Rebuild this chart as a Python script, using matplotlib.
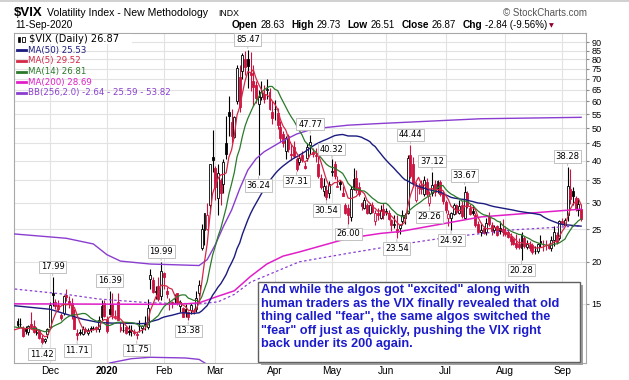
import matplotlib
matplotlib.use("Agg")
import matplotlib.pyplot as plt
import matplotlib.patches as mpatches
from matplotlib.lines import Line2D
import numpy as np
import pandas as pd

W, H = 629, 380

# trading day index: 0 = 2 Dec 2019
warmup_close = [13.71, 12.65, 13.11, 13.20, 12.33, 13.22, 12.30, 12.83, 13.10, 12.62, 12.73, 12.07, 12.69, 12.68]
first_day = -12  # 13 Nov 2019

opens = [13.30, 13.10, 12.70, 12.70, 12.40, 13.10, 12.90, 12.30, 12.50, 11.90, 11.60, 12.20,
         12.80, 16.20, 15.20, 14.90, 13.90, 14.10, 15.90, 15.30, 15.10, 13.70, 12.30, 12.40, 12.20, 12.60, 12.30, 12.70, 12.70, 12.80, 12.60, 13.70, 15.10,
         13.50, 14.50, 15.00, 13.70, 15.20, 12.80, 12.50, 12.80, 12.40, 12.50, 12.40, 12.20, 12.90, 12.70, 13.10, 12.80, 17.80, 17.70, 16.30, 16.90, 15.80,
         18.50, 16.40, 15.20, 15.20, 15.50, 16.10, 14.80, 14.60, 14.50, 14.20, 14.40, 14.30, 14.50, 16.10, 22.00, 24.80, 25.00, 29.50, 41.00,
         38.00, 31.00, 35.00, 34.00, 45.00, 56.00, 52.00, 47.00, 60.00, 71.00, 74.00, 80.00, 80.00, 73.00, 69.00, 67.00, 58.90, 62.00, 63.00, 65.00, 64.00, 56.00,
         57.00, 55.50, 50.50, 48.00, 42.80, 47.50, 42.00, 44.00, 40.50, 39.50, 41.50, 38.50, 40.80, 44.50, 42.50, 41.50, 39.00, 35.50, 32.60, 32.80, 32.00,
         37.00, 39.00, 33.50, 34.50, 32.00, 29.50, 29.00, 27.20, 33.00, 35.50, 33.50, 30.00, 29.00, 29.60, 28.00, 29.60, 26.50, 28.00, 27.00, 28.80,
         28.20, 28.00, 26.70, 25.80, 25.00, 25.30, 26.50, 27.00, 28.00, 41.50, 39.00, 30.50, 33.20, 33.80, 31.80, 34.50, 30.00, 32.00, 34.00, 33.00, 34.50, 32.00,
         30.20, 27.00, 27.00, 27.80, 29.50, 28.00, 29.50, 27.00, 32.00, 29.00, 28.30, 27.50, 26.00, 24.50, 25.30, 24.50, 27.30, 25.70, 24.90, 25.50, 25.20, 25.00,
         24.60, 24.50, 23.80, 23.40, 22.70, 22.60, 22.00, 23.50, 22.20, 22.50, 22.50, 21.50, 21.50, 23.00, 22.60, 22.50, 22.50, 22.00, 23.20, 24.00, 23.50,
         26.50, 25.80, 27.50, 33.00, 32.50, 31.00, 28.50, 28.63]
highs = [13.60, 13.60, 12.90, 12.90, 13.00, 14.20, 13.40, 12.80, 12.60, 12.10, 11.90, 12.70,
         15.20, 17.99, 15.50, 15.40, 14.10, 15.90, 16.60, 15.80, 15.60, 14.50, 12.60, 12.60, 12.90, 12.80, 12.70, 12.90, 12.90, 12.90, 13.80, 15.40, 15.40,
         13.80, 16.39, 16.20, 14.40, 16.20, 13.20, 13.20, 12.90, 13.00, 13.00, 12.60, 12.40, 13.40, 13.00, 13.80, 15.50, 19.00, 18.00, 16.90, 18.00, 19.99,
         18.60, 16.80, 15.60, 15.30, 16.00, 16.20, 15.40, 14.70, 15.00, 14.30, 15.10, 14.60, 16.40, 17.70, 25.90, 28.00, 30.00, 39.20, 49.50,
         38.50, 39.00, 35.50, 40.50, 54.40, 62.10, 57.00, 54.40, 76.80, 77.00, 83.56, 84.83, 85.47, 84.26, 77.00, 69.00, 65.00, 69.00, 67.00, 70.00, 66.00, 60.00,
         60.60, 57.30, 52.40, 49.00, 47.50, 48.00, 44.80, 45.80, 40.90, 42.00, 42.80, 39.50, 45.00, 47.77, 43.50, 43.50, 41.20, 36.50, 35.50, 33.80, 34.80,
         40.32, 40.00, 36.00, 35.00, 33.60, 30.00, 29.80, 33.70, 38.00, 37.50, 34.50, 30.10, 31.20, 30.00, 30.00, 30.20, 28.60, 29.00, 29.60, 30.00,
         29.00, 28.50, 26.80, 27.50, 27.50, 26.00, 28.50, 28.00, 41.50, 44.44, 41.00, 34.50, 34.40, 35.00, 36.00, 35.50, 32.50, 37.12, 35.00, 35.00, 35.00, 32.50,
         30.50, 28.50, 28.20, 30.00, 29.80, 30.50, 30.30, 33.67, 32.60, 29.80, 29.50, 28.00, 26.50, 26.00, 25.50, 27.00, 28.20, 26.20, 25.80, 25.80, 26.40, 26.90,
         25.50, 24.80, 24.30, 23.60, 24.20, 23.50, 24.60, 23.80, 23.30, 23.00, 22.70, 22.30, 22.80, 24.00, 23.20, 23.30, 22.80, 23.80, 25.60, 24.60, 26.60,
         27.00, 27.00, 38.28, 37.70, 33.50, 31.50, 30.90, 29.73]
lows = [12.70, 12.80, 11.98, 12.20, 12.10, 12.60, 12.30, 12.10, 11.80, 11.42, 11.50, 11.90,
        12.70, 14.80, 14.50, 14.30, 13.40, 13.90, 15.30, 14.60, 13.50, 12.60, 11.71, 12.10, 12.10, 12.30, 12.10, 12.40, 12.50, 12.40, 12.40, 13.40, 13.70,
        12.30, 13.90, 13.50, 13.50, 13.40, 12.40, 12.40, 12.20, 12.10, 12.00, 12.10, 11.75, 12.40, 12.30, 12.50, 12.60, 16.60, 16.10, 15.50, 15.30, 15.40,
        16.60, 15.60, 14.40, 14.60, 15.00, 14.90, 14.20, 13.70, 13.70, 13.38, 14.00, 14.00, 14.20, 15.80, 21.70, 22.40, 24.80, 28.00, 37.00,
        30.50, 27.60, 29.60, 32.00, 40.50, 47.50, 45.00, 46.80, 59.00, 56.00, 70.00, 72.00, 66.00, 64.50, 58.00, 59.50, 36.24, 60.50, 59.50, 61.00, 56.50, 51.50,
        53.00, 49.60, 45.50, 44.00, 40.50, 42.50, 40.20, 40.70, 37.31, 38.80, 39.50, 37.80, 40.00, 42.00, 41.00, 39.60, 35.50, 33.00, 31.40, 30.54, 31.00,
        36.00, 35.20, 33.30, 32.80, 31.30, 27.80, 26.00, 26.50, 32.80, 32.00, 31.40, 28.60, 28.80, 27.80, 27.70, 28.00, 25.80, 26.70, 26.90, 26.80,
        27.50, 26.60, 24.70, 25.30, 23.54, 24.20, 25.70, 26.00, 27.70, 35.40, 33.50, 30.20, 31.90, 31.90, 31.30, 31.50, 29.26, 31.30, 31.50, 32.00, 31.50, 29.80,
        28.00, 25.60, 24.92, 27.50, 27.70, 27.80, 27.00, 26.80, 28.90, 27.50, 27.50, 25.40, 24.40, 23.80, 24.20, 24.10, 25.50, 24.10, 24.30, 23.90, 24.20, 23.80,
        23.90, 23.60, 22.50, 22.40, 21.80, 21.90, 20.28, 22.00, 21.80, 21.60, 21.10, 21.10, 21.20, 22.10, 21.60, 21.70, 21.80, 21.60, 22.30, 22.60, 23.20,
        25.70, 25.50, 26.40, 29.80, 29.60, 28.40, 27.30, 26.51]
closes = [13.00, 13.05, 12.05, 12.46, 12.86, 12.78, 12.34, 12.34, 11.87, 11.54, 11.75, 12.62,
          14.91, 15.96, 14.80, 14.52, 13.62, 15.86, 15.68, 14.99, 13.94, 12.63, 12.14, 12.29, 12.58, 12.50, 12.51, 12.61, 12.67, 12.65, 13.43, 14.82, 13.78,
          12.47, 14.02, 13.85, 13.79, 13.45, 12.54, 12.56, 12.32, 12.39, 12.42, 12.32, 12.10, 12.85, 12.91, 12.98, 14.56, 18.23, 16.28, 16.39, 15.49, 18.84,
          17.97, 16.05, 15.15, 14.96, 15.47, 15.04, 15.18, 13.74, 14.15, 13.68, 14.83, 14.38, 15.56, 17.08, 25.03, 27.85, 27.56, 39.16, 40.11,
          33.42, 36.82, 31.99, 39.62, 41.94, 54.46, 47.30, 53.90, 75.47, 57.83, 82.69, 75.91, 76.45, 72.00, 66.04, 61.59, 61.67, 63.95, 61.00, 65.54, 57.08, 53.54,
          57.06, 50.91, 46.80, 45.24, 46.70, 43.35, 41.67, 41.17, 37.76, 40.84, 40.11, 38.15, 43.83, 45.41, 41.98, 41.38, 35.93, 33.29, 33.57, 31.23, 34.15,
          37.19, 35.97, 33.61, 34.12, 31.44, 27.98, 27.57, 33.04, 35.28, 32.61, 31.89, 29.30, 30.53, 27.99, 29.53, 28.16, 28.01, 27.62, 28.59, 27.51,
          28.23, 26.84, 25.66, 25.81, 24.52, 25.81, 27.57, 27.57, 40.79, 36.09, 34.40, 33.67, 33.47, 32.94, 35.12, 31.77, 31.37, 33.84, 32.22, 34.73, 31.78, 30.43,
          28.62, 27.68, 27.94, 29.43, 28.08, 29.26, 27.29, 32.19, 29.52, 27.76, 28.00, 25.68, 24.46, 24.84, 24.32, 26.08, 25.84, 24.74, 25.44, 24.10, 24.76, 24.46,
          24.28, 23.76, 22.99, 22.65, 22.21, 22.13, 24.03, 22.28, 22.59, 22.05, 21.35, 21.51, 22.54, 22.72, 22.54, 22.37, 22.03, 23.27, 24.47, 22.96, 26.41,
          26.12, 26.57, 33.60, 30.75, 31.46, 28.81, 29.71, 26.87]

# indicator lines (they need history from before the window)
ma50_early_days = [-13, 0, 12, 18]
ma50_early_vals = [14.8, 14.45, 13.5, 13.2]
ma200_days = [-13, 37, 44, 50, 55, 62, 68, 74, 80, 86, 92, 110, 122, 129, 159, 196]
ma200_vals = [15.0, 14.95, 14.95, 15.0, 15.1, 15.8, 16.4, 18.1, 19.7, 20.8, 21.4, 23.5, 24.3, 24.6, 27.2, 28.69]
bb_mid_days = [-13, 6, 18, 37, 55, 62, 68, 74, 86, 92, 110, 122, 132, 146, 171, 196]
bb_mid_vals = [16.6, 16.0, 15.5, 15.1, 15.0, 15.2, 16.0, 17.4, 19.1, 20.0, 21.2, 22.0, 22.7, 23.6, 24.9, 25.59]
bb_up_days = [-13, 6, 16, 21, 26, 37, 55, 58, 61, 64, 67, 70, 73, 76, 79, 85, 91, 97, 110, 122, 159, 196]
bb_up_vals = [24.2, 23.5, 22.6, 21.0, 20.1, 19.7, 19.5, 20.3, 22.5, 25.5, 28.5, 33.0, 37.5, 40.5, 42.5, 45.4, 48.0, 49.7, 51.0, 51.6, 53.3, 53.82]
bb_lo_days = [-13, 16, 22, 30, 37, 50, 55, 58, 62, 66]
bb_lo_vals = [8.0, 9.3, 10.0, 10.3, 10.4, 10.35, 10.25, 9.9, 8.0, 5.0]

peak_days = [1, 22, 41, 73, 96, 104, 133, 141, 153, 191]
trough_days = [-3, 10, 32, 51, 77, 91, 102, 110, 128, 140, 148, 174]

month_days = [0, 21, 42, 61, 83, 104, 124, 146, 168, 189]
month_labels = ["Dec", "2020", "Feb", "Mar", "Apr", "May", "Jun", "Jul", "Aug", "Sep"]
y_ticks = [15, 20, 25, 30, 35, 40, 45, 50, 55, 60, 65, 70, 75, 80, 85, 90]

quote_labels = ["Open", "High", "Low", "Close", "Chg"]
quote_values = ["28.63", "29.73", "26.51", "26.87", "-2.84 (-9.56%)"]

note = ('And while the algos got "excited" along with\n'
        'human traders as the VIX finally revealed that old\n'
        'thing called "fear", the same algos switched the\n'
        '"fear" off just as quickly, pushing the VIX right\n'
        'back under its 200 again.')

RED = "#cc1240"
C_MA50 = "#1b1b80"
C_MA5 = "#d42848"
C_MA14 = "#2b7a2b"
C_MA200 = "#e01fc8"
C_BB = "#8a3dd0"


def fx(px):
    return px / W


def fy(py):
    return 1 - py / H


o = np.array(opens)
h = np.array(highs)
l = np.array(lows)
c = np.array(closes)
days = np.arange(first_day, first_day + len(c))

all_close = pd.Series(warmup_close + closes,
                      index=np.arange(first_day - len(warmup_close), first_day + len(c)))
ma5 = all_close.rolling(5).mean().dropna()
ma14 = all_close.rolling(14).mean().dropna()
ma50 = all_close.rolling(50).mean().dropna()

prev_c = np.r_[warmup_close[-1], c[:-1]]
cols = np.where(c >= prev_c, "black", RED)
faces = np.where(c >= o, "white", cols)

fig = plt.figure(figsize=(W / 100, H / 100), dpi=100)
ax = fig.add_axes([fx(14), fy(363), fx(586) - fx(14), fy(33) - fy(363)])
ax.set_yscale("log")

ax.vlines(days, l, h, colors=cols, lw=0.8, zorder=3)
ax.bar(days, np.maximum(np.abs(c - o), 0.05), bottom=np.minimum(o, c), width=0.72,
       color=faces, edgecolor=cols, linewidth=0.6, zorder=4)

ax.plot(bb_up_days, bb_up_vals, color=C_BB, lw=1.0, zorder=5)
ax.plot(bb_lo_days, bb_lo_vals, color=C_BB, lw=1.0, zorder=5)
ax.plot(bb_mid_days, bb_mid_vals, color=C_BB, lw=0.9, ls=(0, (2, 2)), zorder=5)
ax.plot(ma200_days, ma200_vals, color=C_MA200, lw=1.1, zorder=5)
ax.plot(ma50_early_days + list(ma50.index), ma50_early_vals + list(ma50.values), color=C_MA50, lw=1.0, zorder=5)
ax.plot(ma14.index, ma14.values, color=C_MA14, lw=0.9, zorder=6)
ax.plot(ma5.index, ma5.values, color=C_MA5, lw=0.9, zorder=6)

box = dict(boxstyle="square,pad=0.2", fc="white", ec="#b8b8b8", lw=0.6)
arrow = dict(arrowstyle="-", color="#b8b8b8", lw=0.6, shrinkA=0, shrinkB=1)
for d in peak_days:
    v = h[d - first_day]
    ax.annotate(f"{v:.2f}", xy=(d, v), xytext=(0, 7.5), textcoords="offset points",
                ha="center", va="center", fontsize=6, family="DejaVu Sans",
                bbox=box, arrowprops=arrow, zorder=8)
for d in trough_days:
    v = l[d - first_day]
    ax.annotate(f"{v:.2f}", xy=(d, v), xytext=(0, -7.5), textcoords="offset points",
                ha="center", va="center", fontsize=6, family="DejaVu Sans",
                bbox=box, arrowprops=arrow, zorder=8)

ax.set_xlim(-13.3, 197.8)
ax.set_ylim(10.0, 95.9)
ax.yaxis.tick_right()
ax.set_yticks(y_ticks)
ax.set_yticklabels([str(t) for t in y_ticks])
ax.yaxis.set_minor_locator(matplotlib.ticker.NullLocator())
ax.set_xticks(month_days)
ax.set_xticklabels(month_labels)
for t in ax.get_xticklabels():
    if t.get_text() == "2020":
        t.set_fontweight("bold")
ax.tick_params(axis="y", length=2.5, pad=1.5, labelsize=6.6, color="#888888")
ax.tick_params(axis="x", length=0, pad=2.5, labelsize=7.3)
for t in ax.get_xticklabels() + ax.get_yticklabels():
    t.set_family("Liberation Sans")
ax.grid(True, color="#e2e2e2", lw=0.8, zorder=0)
ax.set_axisbelow(True)
for sp in ax.spines.values():
    sp.set_color("#a8a8a8")
    sp.set_linewidth(0.8)

# header
fig.add_artist(Line2D([0, 1], [fy(1), fy(1)], color="#c8c8c8", lw=1.2))
fig.text(fx(14), fy(13), "$VIX", fontsize=9.5, fontweight="bold", family="Liberation Sans", va="center")
fig.text(fx(47), fy(13), "Volatility Index - New Methodology", fontsize=7.6, family="Liberation Sans", va="center")
fig.text(fx(218), fy(13.5), "INDX", fontsize=6.3, family="Liberation Sans", va="center")
fig.text(fx(15), fy(25), "11-Sep-2020", fontsize=7.2, family="Liberation Sans", va="center")
fig.text(fx(587), fy(13.5), "\u00a9 StockCharts.com", fontsize=7.0, family="Liberation Sans",
         color="#555555", va="center", ha="right")

# quote line, laid out left to right from measured widths
renderer = fig.canvas.get_renderer()
x = 232
for lab, val in zip(quote_labels, quote_values):
    t = fig.text(fx(x), fy(25), lab, fontsize=7.3, family="Liberation Sans", fontweight="bold", va="center")
    x += t.get_window_extent(renderer).width + 2.5
    t = fig.text(fx(x), fy(25), val, fontsize=7.0, family="Liberation Sans", va="center")
    x += t.get_window_extent(renderer).width + 7
fig.text(fx(x - 3), fy(25.5), "\u25bc", fontsize=4.5, color="#8b0030", ha="center", va="center")

# legend block
fig.add_artist(mpatches.Rectangle((fx(15), fy(43.5)), fx(132) - fx(15), fy(34) - fy(43.5),
                                  fc="white", ec="none", zorder=7))
fig.add_artist(mpatches.Rectangle((fx(18), fy(42)), fx(2), fy(37) - fy(42), fc="black", ec="black", lw=0.5, zorder=8))
fig.add_artist(mpatches.Rectangle((fx(22), fy(42)), fx(2.5), fy(36.5) - fy(42), fc="white", ec="black", lw=0.6, zorder=8))
fig.text(fx(29), fy(39.5), "$VIX (Daily) 26.87", fontsize=7.1, family="DejaVu Sans", va="center", zorder=8)
legend_rows = [("MA(50) 25.53", C_MA50, 50), ("MA(5) 29.52", C_MA5, 61), ("MA(14) 26.81", C_MA14, 71.5),
               ("MA(200) 28.69", C_MA200, 82), ("BB(256,2.0) -2.64 - 25.59 - 53.82", C_BB, 93)]
for txt, col, py in legend_rows:
    fig.add_artist(Line2D([fx(17), fx(26)], [fy(py), fy(py)], color=col, lw=2.0))
    fig.text(fx(28), fy(py), txt, fontsize=6.2, family="DejaVu Sans", color=col, va="center")

# comment box
fig.add_artist(mpatches.Rectangle((fx(261), fy(365)), fx(580) - fx(258), fy(285) - fy(365),
                                  fc="#a0a0a0", ec="none", zorder=9))
fig.add_artist(mpatches.Rectangle((fx(258), fy(362)), fx(580) - fx(258), fy(282) - fy(362),
                                  fc="white", ec="#606060", lw=1.0, zorder=10))
fig.text(fx(261), fy(284.5), note, fontsize=9.2, fontweight="bold", family="Liberation Sans",
         color="#1c1ccc", va="top", linespacing=1.15, zorder=11)

fig.savefig("out.png", dpi=100)
